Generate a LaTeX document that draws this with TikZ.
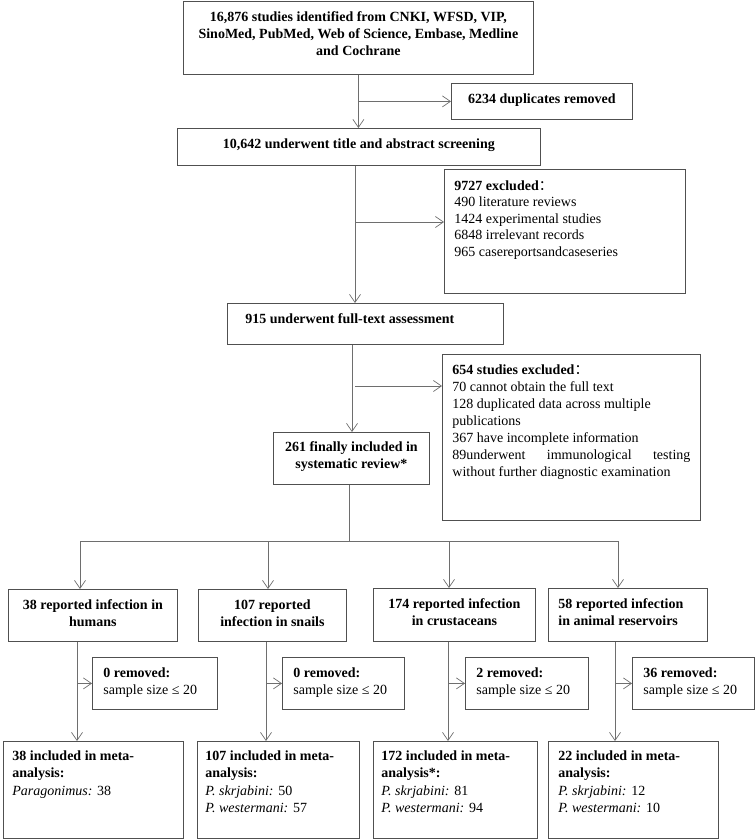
\documentclass[tikz,border=0pt]{standalone}
\usepackage{fontspec}
\setmainfont{Liberation Serif}
\newfontfamily\cjk{Noto Sans CJK SC}
\usepackage{tikz}
\usetikzlibrary{positioning,arrows.meta,calc}
\definecolor{boxgray}{HTML}{505050}
\definecolor{arrowgray}{HTML}{6E6E6E}
\tikzset{
  flowbox/.style={draw=boxgray, line width=0.8pt, anchor=north west, inner xsep=4pt, inner ysep=10pt,
    font=\fontsize{14}{17}\selectfont},
  flowline/.style={draw=arrowgray, line width=0.8pt},
  flowarrow/.style={flowline, -{Straight Barb[length=8pt, width=11pt, line width=0.7pt]}},
}
\newcommand{\tbox}[3]{\parbox[t][#2][t]{#1}{#3}}

\begin{document}
\begin{tikzpicture}[x=1pt, y=-1pt]
  \useasboundingbox (0,0) rectangle (755,840);
  \node[flowbox] (search) at (183,1) {\tbox{342pt}{53pt}{\centering\bfseries 16,876 studies identified from CNKI, WFSD, VIP,\\ SinoMed, PubMed, Web of Science, Embase, Medline\\ and Cochrane}};
  \node[flowbox] (dup) at (451,83) {\tbox{173pt}{16pt}{\centering\bfseries 6234 duplicates removed}};
  \node[flowbox] (screen) at (177,128) {\tbox{355pt}{17pt}{\centering\bfseries 10,642 underwent title and abstract screening}};
  \node[flowbox, inner xsep=10pt, inner ysep=11pt] (excl1) at (444,169) {\tbox{221pt}{102pt}{\raggedright\fontsize{14}{16.5}\selectfont
    \textbf{9727 excluded}{\cjk ：}\\ 490 literature reviews\\ 1424 experimental studies\\ 6848 irrelevant records\\ 965 casereportsandcaseseries}};
  \node[flowbox, inner xsep=18pt] (fulltext) at (227,303) {\tbox{240pt}{21pt}{\raggedright\bfseries 915 underwent full-text assessment}};
  \node[flowbox, inner xsep=10pt] (excl2) at (442,354) {\tbox{238pt}{146pt}{\raggedright
    \textbf{654 studies excluded}{\cjk ：}\\ 70 cannot obtain the full text\\ 128 duplicated data across multiple\\ publications\\ 367 have incomplete information\\
    \makebox[\linewidth][s]{89underwent immunological testing}\\ without further diagnostic examination}};
  \node[flowbox, inner ysep=9pt] (review) at (273,432) {\tbox{148pt}{34pt}{\centering\bfseries 261 finally included in\\ systematic review*}};

  \node[flowbox] (hum) at (8,589) {\tbox{161pt}{32pt}{\centering\bfseries 38 reported infection in\\ humans}};
  \node[flowbox] (snail) at (198,589) {\tbox{140pt}{32pt}{\centering\bfseries 107 reported\\ infection in snails}};
  \node[flowbox] (crus) at (373,588) {\tbox{154pt}{33pt}{\centering\bfseries 174 reported infection\\ in crustaceans}};
  \node[flowbox, inner xsep=10pt] (anim) at (548,588) {\tbox{139pt}{33pt}{\raggedright\bfseries 58 reported infection\\ in animal reservoirs}};

  \node[flowbox, inner xsep=11pt] (rhum) at (92,657) {\tbox{103pt}{32pt}{\raggedright\textbf{0 removed:}\\ sample size ≤ 20}};
  \node[flowbox, inner xsep=11pt] (rsnail) at (282,657) {\tbox{100pt}{32pt}{\raggedright\textbf{0 removed:}\\ sample size ≤ 20}};
  \node[flowbox, inner xsep=11pt] (rcrus) at (465,657) {\tbox{101pt}{32pt}{\raggedright\textbf{2 removed:}\\ sample size ≤ 20}};
  \node[flowbox, inner xsep=11pt] (ranim) at (632,657) {\tbox{100pt}{32pt}{\raggedright\textbf{36 removed:}\\ sample size ≤ 20}};

  \node[flowbox, inner xsep=9pt, inner ysep=9pt] (ihum) at (3,741) {\tbox{162pt}{79pt}{\raggedright\fontsize{14}{17.5}\selectfont
    \textbf{38 included in meta-}\\ \textbf{analysis:}\\ \textit{Paragonimus:} 38}};
  \node[flowbox, inner xsep=8pt, inner ysep=9pt] (isnail) at (197,741) {\tbox{146pt}{79pt}{\raggedright\fontsize{14}{17.5}\selectfont
    \textbf{107 included in meta-}\\ \textbf{analysis:}\\ \textit{P. skrjabini:} 50\\ \textit{P. westermani:} 57}};
  \node[flowbox, inner xsep=8pt, inner ysep=9pt] (icrus) at (373,741) {\tbox{148pt}{79pt}{\raggedright\fontsize{14}{17.5}\selectfont
    \textbf{172 included in meta-}\\ \textbf{analysis*:}\\ \textit{P. skrjabini:} 81\\ \textit{P. westermani:} 94}};
  \node[flowbox, inner xsep=10pt, inner ysep=9pt] (ianim) at (548,741) {\tbox{150pt}{79pt}{\raggedright\fontsize{14}{17.5}\selectfont
    \textbf{22 included in meta-}\\ \textbf{analysis:}\\ \textit{P. skrjabini:} 12\\ \textit{P. westermani:} 10}};

  \coordinate (spine1) at (355,222);
  \coordinate (spine2) at (352,386);
  \coordinate (fork) at (349,541);
  \draw[flowarrow] (search.south) -- (search.south |- screen.north);
  \draw[flowarrow] (search.south |- dup.west) -- (dup.west);
  \draw[flowarrow] (screen.south -| spine1) -- (fulltext.north -| spine1);
  \draw[flowarrow] (spine1) -- (spine1 -| excl1.west);
  \draw[flowarrow] (fulltext.south -| spine2) -- (review.north -| spine2);
  \draw[flowarrow] ([xshift=3pt]spine2) -- (spine2 -| excl2.west);
  \draw[flowline] (review.south -| fork) -- (fork);
  \draw[flowline] (fork -| 80,0) -- (fork -| 618,0);
  \foreach \dx/\grp in {80/hum, 268/snail, 449/crus, 618/anim}
    \draw[flowarrow] (fork -| \dx,0) -- (\grp.north -| \dx,0);
  \foreach \dx/\grp/\rem/\inc in {77/hum/rhum/ihum, 266/snail/rsnail/isnail, 448/crus/rcrus/icrus, 615/anim/ranim/ianim} {
    \draw[flowarrow] (\grp.south -| \dx,0) -- (\inc.north -| \dx,0);
    \draw[flowarrow] (\rem.west -| \dx,0) -- (\rem.west);
  }
\end{tikzpicture}
\end{document}
